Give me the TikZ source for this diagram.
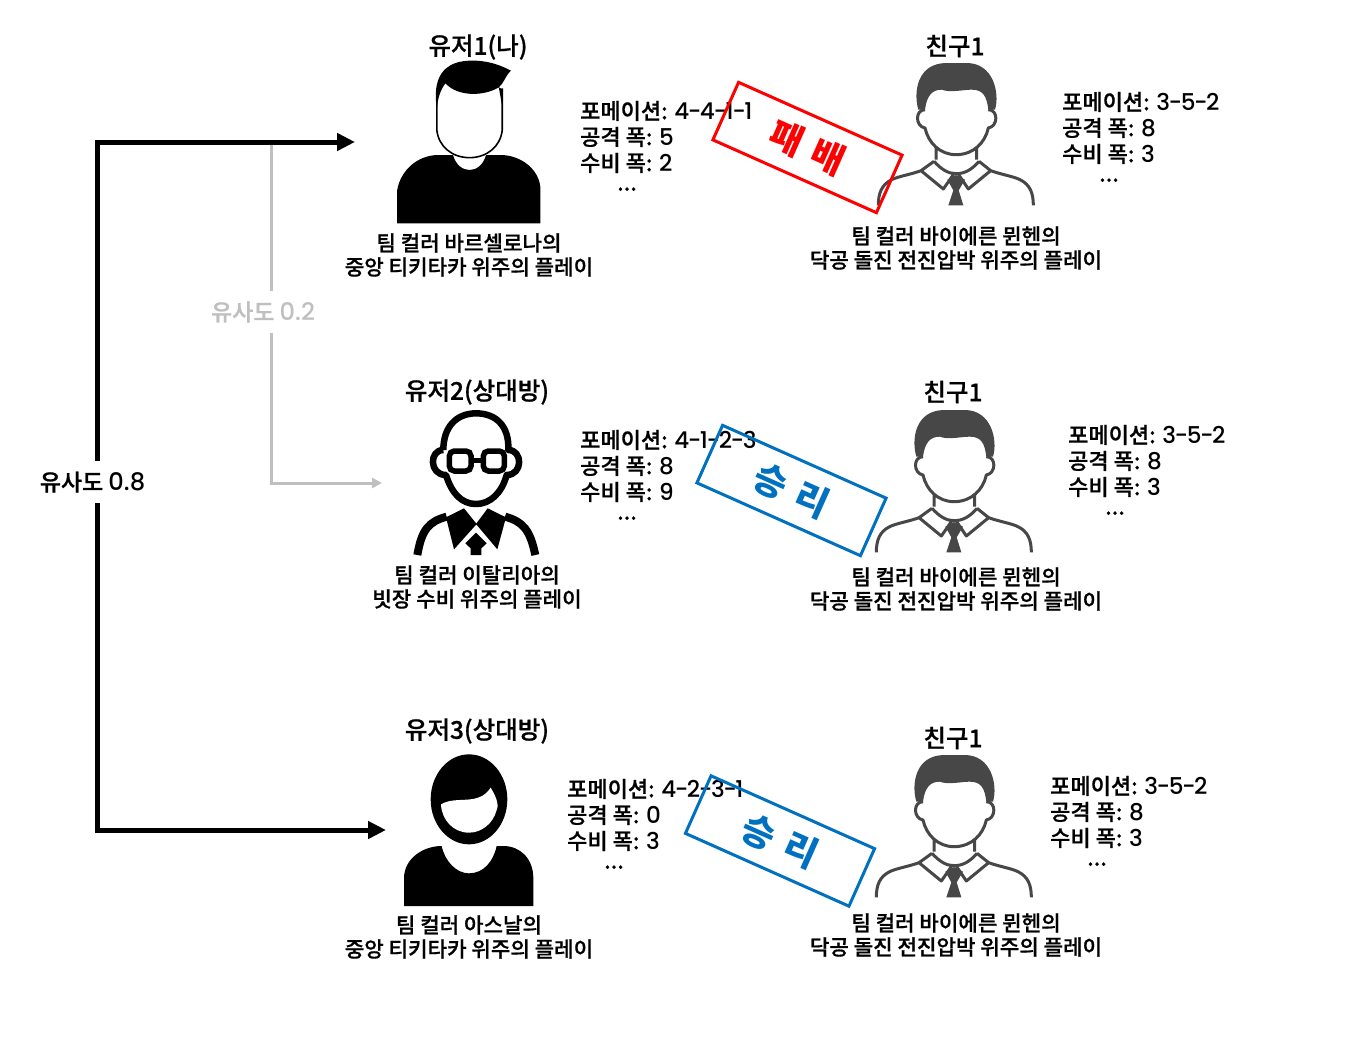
\documentclass[tikz,border=0pt]{standalone}
\usepackage{fontspec}
\setmainfont{Noto Sans CJK KR Medium}[FakeBold=0.7]
\newfontfamily\stampfont{Noto Sans CJK KR Black}
\newfontfamily\numfont{Poppins}[UprightFont=* Medium,Scale=1.05]
\newcommand{\nm}[1]{{\numfont #1}}
\newcommand{\nd}{\kern-1.4pt-\kern-1.4pt}
\newcommand{\dotsline}{\hspace{37pt}\raisebox{6.5pt}{...}}
\definecolor{kgray}{RGB}{71,71,71}
\definecolor{klight}{RGB}{191,191,191}
\definecolor{kred}{RGB}{255,0,0}
\definecolor{kblue}{RGB}{0,112,192}
\usetikzlibrary{arrows.meta,positioning}
\tikzset{
  friend/.pic={
    \begin{scope}[scale=1/3,shift={(-288,-100)}]
      \fill[kgray] (175,240) .. controls (160,190) and (170,100) .. (260,100) -- (320,100)
        .. controls (400,100) and (420,190) .. (405,240) -- (385,240)
        .. controls (380,200) and (370,180) .. (335,180) .. controls (310,180) and (270,190) .. (245,180)
        .. controls (215,180) and (200,200) .. (195,240) -- cycle;
      \draw[kgray,line width=3pt,line join=round]
        (195,240) .. controls (165,240) and (165,290) .. (195,295)
        .. controls (205,340) and (240,375) .. (288,375) .. controls (340,375) and (375,340) .. (385,295)
        .. controls (415,290) and (415,240) .. (385,240)
        (228,350) -- (228,390) (350,350) -- (350,390)
        (222,395) -- (183,423) -- (250,478) -- (280,435) (357,395) -- (392,423) -- (325,478) -- (296,435)
        (222,395) .. controls (245,420) and (265,432) .. (288,432) .. controls (315,432) and (335,420) .. (357,395)
        (183,423) .. controls (150,435) and (115,440) .. (95,450) .. controls (65,465) and (55,490) .. (55,527)
        (392,423) .. controls (425,435) and (460,440) .. (480,450) .. controls (510,465) and (520,490) .. (520,527);
      \fill[kgray] (288,436) -- (315,450) -- (296,482) -- (310,527) -- (265,527) -- (280,482) -- (262,450) -- cycle;
    \end{scope}
  }
}
\begin{document}
\begin{tikzpicture}[x=1pt,y=-1pt,
    title/.style={font=\fontsize{24.5}{26}\selectfont},
    desc/.style={font=\fontsize{21.2}{24}\selectfont, align=center, inner sep=0pt},
    stats/.style={font=\fontsize{22}{26}\selectfont, align=left, anchor=west, inner sep=0pt},
    stamp/.style={draw=#1, text=#1, line width=3pt, minimum width=179pt, minimum height=63pt,
                  rotate=-24, inner sep=0pt, font=\stampfont\fontsize{36}{38}\selectfont},
    simlabel/.style={font=\fontsize{23}{24}\selectfont, fill=white, inner sep=0pt, minimum height=42pt},
    mainline/.style={line width=5pt, -{Triangle[length=18pt,width=17pt]}},
    lightline/.style={klight, line width=3pt, -{Triangle[length=10pt,width=10pt]}}
  ]
    \useasboundingbox (0,0) rectangle (1352,1039);

    % Similarity arrows
    \coordinate (top08) at (97,142);
    \coordinate (bottom08) at (97,830);
    \coordinate (in1) at (355,142);
    \coordinate (in3) at (386,830);
    \coordinate (top02) at (271,145);
    \coordinate (bottom02) at (271,483);
    \coordinate (in2) at (382,483);
    \node[simlabel] (sim08) at (92.5,482) {유사도 \nm{0.8}};
    \node[simlabel, text=klight] (sim02) at (263,312) {유사도 \nm{0.2}};
    \draw[mainline] (sim08.north -| top08) -- (top08) -- (in1);
    \draw[mainline] (sim08.south -| bottom08) -- (bottom08) -- (in3);
    \draw[klight, line width=3pt] (sim02.north -| top02) -- (top02);
    \draw[lightline] (sim02.south -| bottom02) -- (bottom02) -- (in2);

    % User 1
    \node[title] (user1) at (478,47) {유저1(나)};
    \begin{scope}[shift={(380,30)},xscale=1/2.904,yscale=1/3]
      \fill (50,580) -- (50,480) .. controls (60,420) and (110,375) .. (170,375) -- (212,375)
        .. controls (220,405) and (240,420) .. (260,420) .. controls (280,420) and (300,405) .. (308,375) -- (350,375)
        .. controls (410,375) and (466,420) .. (466,480) -- (466,580) -- cycle;
      \draw[line width=1.6pt] (165,200) -- (165,300) .. controls (170,350) and (210,383) .. (260,383)
        .. controls (310,383) and (350,350) .. (355,300) -- (355,175);
      \fill (165,235) .. controls (155,170) and (165,95) .. (260,92) .. controls (310,90) and (350,105) .. (380,122)
        .. controls (365,135) and (360,160) .. (345,172) -- (356,178) -- (356,235) -- (345,172)
        .. controls (300,200) and (225,200) .. (190,160) .. controls (175,180) and (168,205) .. (165,235) -- cycle;
    \end{scope}
    \node[desc] (desc1) at (469,255) {팀 컬러 바르셀로나의\\중앙 티키타카 위주의 플레이};
    \node[stats] (stats1) at (580,149) {포메이션: \nm{4\nd 4\nd 1\nd 1}\\공격 폭: \nm{5}\\수비 폭: \nm{2}\\\dotsline};

    % Friend of user 1
    \node[title] (friend1) at (955,46) {친구1};
    \pic at (956,63) {friend};
    \node[desc] (fdesc1) at (956,248) {팀 컬러 바이에른 뮌헨의\\닥공 돌진 전진압박 위주의 플레이};
    \node[stats] (fstats1) at (1062,140) {포메이션: \nm{3\nd 5\nd 2}\\공격 폭: \nm{8}\\수비 폭: \nm{3}\\\dotsline};
    \node[stamp=kred] (lose1) at (807.5,147.5) {패\hspace{4pt} 배};

    % User 2
    \node[title] (user2) at (477,392) {유저2(상대방)};
    \begin{scope}[shift={(390,400)},scale=1/3]
      \draw[line width=6.5pt,line join=round]
        (160,150) .. controls (160,80) and (200,40) .. (258,40) .. controls (320,40) and (358,80) .. (355,150)
        .. controls (399,150) and (399,225) .. (350,225) .. controls (335,280) and (300,312) .. (258,312)
        .. controls (215,312) and (185,280) .. (168,225) .. controls (117,225) and (117,150) .. (160,150);
      \draw[line width=8pt]
        (82,465) .. controls (95,390) and (115,365) .. (170,350) (436,465) .. controls (420,390) and (400,365) .. (345,350);
      \draw[line width=5.5pt,rounded corners=5pt,fill=white]
        (178,153) rectangle (243,213) (280,153) rectangle (343,213);
      \draw[line width=5.5pt] (243,182) -- (280,182);
      \fill (168,352) -- (222,325) -- (260,372) -- (192,448) -- cycle (348,352) -- (293,325) -- (258,372) -- (322,448) -- cycle;
      \fill (258,398) -- (290,430) -- (274,445) -- (274,465) -- (242,465) -- (242,445) -- (226,430) -- cycle;
    \end{scope}
    \node[desc] (desc2) at (477,587) {팀 컬러 이탈리아의\\빗장 수비 위주의 플레이};
    \node[stats] (stats2) at (580,478) {포메이션: \nm{4\nd 1\nd 2\nd 3}\\공격 폭: \nm{8}\\수비 폭: \nm{9}\\\dotsline};

    % Friend of user 2
    \node[title] (friend2) at (953,392) {친구1};
    \pic at (954,410) {friend};
    \node[desc] (fdesc2) at (956,589) {팀 컬러 바이에른 뮌헨의\\닥공 돌진 전진압박 위주의 플레이};
    \node[stats] (fstats2) at (1068,473) {포메이션: \nm{3\nd 5\nd 2}\\공격 폭: \nm{8}\\수비 폭: \nm{3}\\\dotsline};
    \node[stamp=kblue] (win2) at (791.5,490.5) {승\hspace{4pt} 리};

    % User 3
    \node[title] (user3) at (477,731) {유저3(상대방)};
    \begin{scope}[shift={(390,745)},scale=1/3]
      \fill (237,163) ellipse [x radius=115, y radius=135];
      \fill[white] (153,178) .. controls (200,150) and (265,185) .. (302,128)
        .. controls (325,165) and (325,185) .. (320,195) .. controls (310,235) and (275,263) .. (237,263)
        .. controls (190,263) and (155,225) .. (153,178) -- cycle;
      \fill (42,483) -- (42,400) .. controls (42,340) and (100,303) .. (155,303) .. controls (165,350) and (200,385) .. (237,385)
        .. controls (280,385) and (310,350) .. (320,303) -- (340,303) .. controls (390,303) and (430,340) .. (430,400) -- (430,483) -- cycle;
    \end{scope}
    \node[desc] (desc3) at (469,937) {팀 컬러 아스날의\\중앙 티키타카 위주의 플레이};
    \node[stats] (stats3) at (567,827) {포메이션: \nm{4\nd 2\nd 3\nd 1}\\공격 폭: \nm{0}\\수비 폭: \nm{3}\\\dotsline};

    % Friend of user 3
    \node[title] (friend3) at (953,738) {친구1};
    \pic at (954,755) {friend};
    \node[desc] (fdesc3) at (956,935) {팀 컬러 바이에른 뮌헨의\\닥공 돌진 전진압박 위주의 플레이};
    \node[stats] (fstats3) at (1050,824) {포메이션: \nm{3\nd 5\nd 2}\\공격 폭: \nm{8}\\수비 폭: \nm{3}\\\dotsline};
    \node[stamp=kblue] (win3) at (780,841) {승\hspace{4pt} 리};
\end{tikzpicture}
\end{document}
